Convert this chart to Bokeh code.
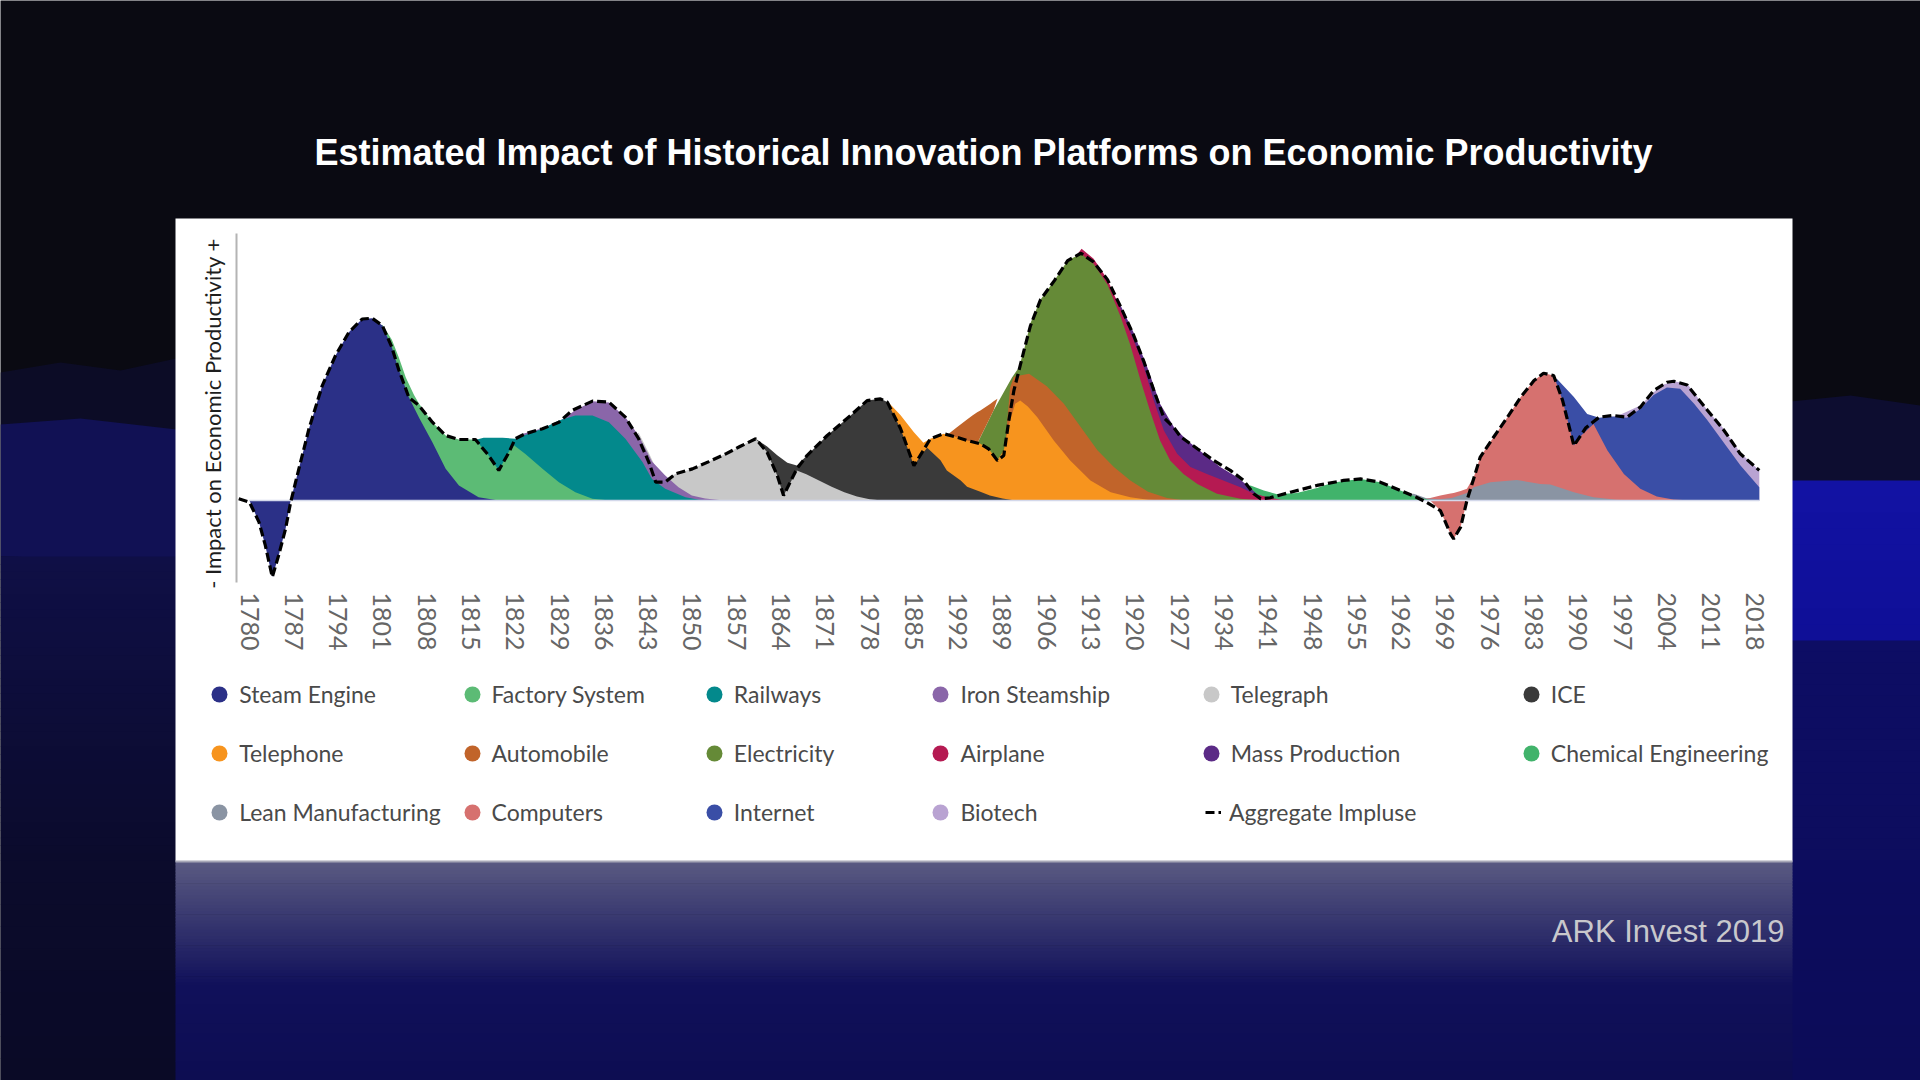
import numpy as np
from bokeh.plotting import figure
from bokeh.models import Range1d, LinearAxis, FixedTicker, Legend, LegendItem
from bokeh.core.properties import value
from bokeh.embed import file_html
from bokeh.resources import INLINE

# ---------------- DATA ----------------
TICK_YEARS = [1780, 1787, 1794, 1801, 1808, 1815, 1822, 1829, 1836, 1843, 1850, 1857,
              1864, 1871, 1878, 1885, 1892, 1899, 1906, 1913, 1920, 1927, 1934, 1941,
              1948, 1955, 1962, 1969, 1976, 1983, 1990, 1997, 2004, 2011, 2018]
TICK_LABELS = ["1780", "1787", "1794", "1801", "1808", "1815", "1822", "1829", "1836", "1843",
               "1850", "1857", "1864", "1871", "1978", "1885", "1992", "1889", "1906", "1913",
               "1920", "1927", "1934", "1941", "1948", "1955", "1962", "1969", "1976", "1983",
               "1990", "1997", "2004", "2011", "2018"]

SERIES_NAMES = ["Steam Engine", "Factory System", "Railways", "Iron Steamship", "Telegraph", "ICE",
                "Telephone", "Automobile", "Electricity", "Airplane", "Mass Production",
                "Chemical Engineering", "Lean Manufacturing", "Computers", "Internet", "Biotech"]
SERIES_COLORS = ["#2b3087", "#5cbb75", "#03898c", "#8a66a9", "#c8c8c8", "#3a3a3a",
                 "#f7941e", "#c1642a", "#658a37", "#b51a52", "#5b2a86",
                 "#41b36b", "#8a94a3", "#d6716f", "#3a4ea6", "#b9a3d2"]

STEAM_YEARS = [1780, 1781.5, 1782.5, 1783.6, 1784.6, 1785.7, 1786.5, 1787.8, 1789.4, 1791.5, 1793.6,
               1795.7, 1797.8, 1799.4, 1801, 1802.5, 1803.6, 1805.2, 1806.8, 1808.9, 1811, 1813.1,
               1816.2, 1819.4]
STEAM_VALUES = [0, -8.6, -18, -30.5, -22, -11.3, 0, 12.6, 28.6, 45.8, 57.8, 67, 72.3, 72.6, 69.7,
                61, 52, 41, 33, 23.2, 12.6, 6, 1.3, 0]

FACTORY_YEARS = [1788, 1792, 1796, 1799.4, 1801, 1802.5, 1803.6, 1804.7, 1806, 1806.8, 1808.9, 1811,
                 1813.1, 1815.7, 1817.8, 1819.4, 1821, 1821.8, 1823.6, 1826.3, 1828.9, 1831.5,
                 1834.2, 1837]
FACTORY_VALUES = [0, 8, 30, 60, 70, 64, 57, 49, 42, 38.5, 31.2, 25.9, 24.3, 24.3, 17.9, 12, 19.5,
                  22, 18.5, 12.6, 7.3, 3.3, 0.7, 0]

RAILWAYS_YEARS = [1803, 1808, 1811, 1813, 1815.5, 1817, 1820, 1822, 1824, 1826.3, 1828.9, 1831.5,
                  1834.2, 1836.8, 1839.4, 1842.1, 1843.6, 1845.7, 1848.9, 1851, 1854]
RAILWAYS_VALUES = [0, 5, 12, 19, 24, 25, 25, 24.6, 26.5, 28.6, 31.9, 33.9, 33.9, 31.2, 24.6, 15.3,
                   8.6, 4.7, 1.3, 0.3, 0]

IRON_YEARS = [1812, 1817, 1820, 1823.1, 1826.3, 1828.9, 1831.5, 1834.2, 1836.8, 1839.4, 1841.5,
              1843.6, 1845.7, 1847.8, 1849.9, 1852, 1855]
IRON_VALUES = [0, 10, 20, 26.5, 28.8, 31.5, 36, 39.5, 39, 33.2, 25.9, 15.5, 10, 5.3, 2, 0.8, 0]

TELEGRAPH_YEARS = [1833, 1837, 1840, 1841.5, 1843.1, 1844.4, 1845.2, 1846, 1847.3, 1850, 1852.6,
                   1855.2, 1857.5, 1860, 1861.8, 1863.4, 1864.4, 1866.5, 1868, 1870, 1872, 1874,
                   1876, 1878, 1880]
TELEGRAPH_VALUES = [0, 12, 24, 27, 19, 12, 7.5, 9, 10.6, 12.6, 15.5, 18.5, 21.5, 24.6, 19.2, 10, 2,
                    12, 10.5, 8, 5.5, 3.3, 1.6, 0.5, 0]

ICE_YEARS = [1848, 1852, 1855, 1858, 1860, 1861.8, 1863.4, 1865, 1866.5, 1868.1, 1871.3, 1875,
             1877.6, 1879.7, 1880.8, 1882.9, 1885, 1886, 1887.1, 1889.2, 1890.2, 1892.4, 1893.4,
             1895.5, 1897, 1899, 1901]
ICE_VALUES = [0, 4, 11, 19, 24.6, 21.5, 18, 15, 13.9, 17.9, 25.9, 33.9, 39.8, 40.5, 39.2, 28.6,
              13.9, 17.5, 21, 16, 12, 8, 5.5, 3.5, 2, 0.8, 0]

TELEPHONE_YEARS = [1872, 1876, 1879, 1880.8, 1882.9, 1885, 1886.5, 1887.6, 1889.7, 1891.8, 1893.4,
                   1895.5, 1896.8, 1898.2, 1899.2, 1900, 1901, 1901.8, 1903, 1904.5, 1907.1, 1909.7,
                   1912.9, 1916.1, 1919.2, 1922, 1925]
TELEPHONE_VALUES = [0, 10, 32, 39.5, 34, 27.2, 23, 24.6, 26.6, 25.2, 23.9, 22.6, 20.6, 15.9, 20, 30,
                    38.5, 39.8, 37.5, 33.2, 23.9, 15.9, 8, 3.3, 1.3, 0.3, 0]

AUTO_YEARS = [1885, 1888, 1889.7, 1891.8, 1893.5, 1894.3, 1895, 1895.5, 1897.1, 1897.6, 1898.2,
              1899.1, 1899.3, 1900.2, 1900.8, 1903.2, 1906, 1908.7, 1911.3, 1914, 1916.6, 1919.2,
              1922, 1925, 1928]
AUTO_VALUES = [0, 20, 25, 29.2, 32.5, 34, 35.2, 35.9, 38.5, 39.5, 40.5, 17.9, 17.9, 45, 49.3, 50.5,
               45.5, 38.5, 29.5, 20, 13.3, 8, 3.5, 1, 0]
AUTO_BASE = [0, 0, 0, 0, 0, 0, 22.6, 25.2, 33.4, 36, 40.5, 17.9, 0, 0, 0, 0, 0, 0, 0, 0, 0, 0, 0,
             0, 0]

ELEC_YEARS = [1888, 1892, 1895, 1897.6, 1900.5, 1901.6, 1902.4, 1903.4, 1905, 1907.2, 1909.3,
              1911.4, 1913.4, 1915.6, 1917.7, 1919.2, 1920.8, 1922.3, 1923.9, 1925.5, 1927.6,
              1929.8, 1932.9, 1936.6, 1940]
ELEC_VALUES = [0, 8, 22.6, 36, 49, 53, 60, 70.5, 80, 87.6, 95.6, 98.3, 94.3, 86, 73, 62, 48, 35.9,
               23.9, 15.9, 10.6, 6.6, 2.7, 0.7, 0]

AIR_YEARS = [1898, 1905, 1909, 1911.5, 1913.4, 1915.6, 1917.7, 1919.7, 1920.8, 1921.6, 1922.9,
             1924.5, 1926.6, 1928.7, 1931.3, 1933.9, 1936.6, 1938.7, 1941.3, 1943, 1945]
AIR_VALUES = [0, 60, 92, 100.3, 96.3, 88, 76, 64, 57, 51, 39.8, 27.9, 18.6, 13.3, 10.6, 8, 5.3,
              2.7, 1.1, 0.3, 0]

MASS_YEARS = [1905, 1910, 1914, 1916, 1917.7, 1919.7, 1921.9, 1923.9, 1926.1, 1928.2, 1930.8,
              1933.4, 1936.1, 1937.7, 1939.3, 1941, 1943]
MASS_VALUES = [0, 50, 85, 83, 77.5, 67, 53, 38.5, 29.2, 23.9, 18.6, 13.3, 9.3, 6, 2.4, 0.8, 0]

CHEM_YEARS = [1932, 1935, 1937, 1938.2, 1940.3, 1942.4, 1945.5, 1948.7, 1951, 1952.9, 1955.6,
              1958.7, 1961.9, 1964.5, 1967]
CHEM_VALUES = [0, 2, 5, 6, 4, 2.5, 3, 5, 7, 7.8, 8.6, 7.3, 4, 1.3, 0]

LEAN_YEARS = [1958, 1962, 1964, 1966.1, 1968, 1970, 1972.4, 1973.5, 1976.1, 1980.3, 1984, 1985.6,
              1989.3, 1992.4, 1996, 2000]
LEAN_VALUES = [0, 1.5, 2.7, 0.8, 0.5, 1, 3, 5.3, 7.3, 8.2, 6.6, 6.4, 3.3, 1.3, 0.3, 0]

COMP_YEARS = [1962, 1964, 1966.6, 1968.2, 1969.8, 1970.3, 1971.4, 1972.4, 1973.5, 1974.5, 1976.6,
              1978.8, 1980.9, 1983, 1984.5, 1986.1, 1987.5, 1989.3, 1990.5, 1992.4, 1994.6, 1997.2,
              1999.8, 2002.4, 2005, 2008]
COMP_VALUES = [0, 0.3, 1, 2, 2.8, 3, 3.8, 4.7, 9.5, 17.3, 25.2, 33.2, 41.2, 47.8, 50.7, 49.8, 40,
               21.9, 26, 30.5, 19.9, 10.6, 4.7, 1.6, 0.4, 0]
COMP_BASE = [0, 0, 0, -4, -13.3, -15.3, -10.6, 0, 0, 0, 0, 0, 0, 0, 0, 0, 0, 0, 0, 0, 0, 0, 0, 0,
             0, 0]

NET_YEARS = [1974, 1978, 1981, 1983.5, 1985.5, 1986.6, 1989.3, 1991.4, 1993.3, 1995.4, 1997.7,
             1999.8, 2001.9, 2004, 2006.1, 2008.3, 2010.4, 2013, 2015.6, 2018.6]
NET_VALUES = [0, 3, 12, 35, 46, 48.5, 41.2, 34.5, 33, 33.5, 33, 36.5, 42, 45, 44.5, 38.5, 32, 23,
              14, 5.3]

BIO_YEARS = [1985, 1990, 1995, 1996.7, 1999.8, 2003, 2005.1, 2007.2, 2010.4, 2013, 2015.6, 2018.6]
BIO_VALUES = [0, 10, 33, 34.3, 37.8, 45.8, 47.5, 46.5, 36, 28.5, 19, 12]

AGG_YEARS = [1778.3, 1780, 1781.5, 1782.5, 1783.6, 1784.6, 1785.7, 1786.5, 1787.8, 1789.4, 1791.5,
             1793.6, 1795.7, 1797.8, 1799.4, 1801, 1802.5, 1803.6, 1805.2, 1806.8, 1808.9, 1811,
             1813.1, 1815.7, 1817.8, 1819.4, 1821, 1822, 1823.6, 1826.3, 1828.9, 1831, 1834.2,
             1836.8, 1839.4, 1841.5, 1843.1, 1844.2, 1845.7, 1847.3, 1850, 1852.6, 1855.2, 1857.5,
             1860, 1861.8, 1863.4, 1864.4, 1866.5, 1868.1, 1871.3, 1875, 1877.6, 1879.7, 1880.8,
             1882.9, 1885, 1886.5, 1887.6, 1889.7, 1891.8, 1893.4, 1895.5, 1896.8, 1898.2, 1899.2,
             1900, 1900.8, 1901.6, 1902.4, 1903.4, 1905, 1907.2, 1909.3, 1911.4, 1913.4, 1915.6,
             1917.7, 1919.7, 1921.4, 1922.9, 1924.5, 1926.1, 1927.1, 1929.8, 1932.4, 1935, 1937.1,
             1938.7, 1939.8, 1941.3, 1944.5, 1948.7, 1952.9, 1955.6, 1958.7, 1961.9, 1964.4, 1966,
             1968.2, 1969.8, 1970.3, 1971.4, 1972.4, 1973.5, 1974.5, 1976.6, 1978.8, 1980.9, 1983,
             1984.5, 1986.1, 1987.5, 1989.3, 1991.2, 1993.3, 1995.4, 1997.7, 1999.8, 2001.9, 2004,
             2005.1, 2007.2, 2010.4, 2013, 2015.6, 2018.6]
AGG_VALUES = [0.7, -0.7, -8.6, -17.9, -30.5, -21.9, -11.3, -0.7, 12.6, 28.6, 45.8,
              57.8, 67, 72.3, 72.6, 69.7, 61, 52, 41, 37.8, 31.2, 25.9,
              24.3, 24.3, 17.9, 12, 19.2, 24.6, 26.6, 28.6, 31.2, 35.9, 39.6,
              39.2, 33.2, 24.6, 15.3, 7.3, 7.3, 10.6, 12.6, 15.5, 18.5, 21.5,
              24.6, 19.2, 10, 2, 12.6, 17.9, 25.9, 33.9, 39.8, 40.5, 39.2,
              28.6, 13.9, 20, 24.6, 26.6, 25.2, 23.9, 22.6, 20.6, 15.9, 17.9,
              31.9, 43.8, 51.8, 59.8, 69.5, 80, 87.6, 95.6, 98.5, 95, 88,
              77, 66, 55, 44, 33, 29, 25.5, 20.6, 15.9, 12, 8,
              2.7, 0.7, 1.1, 3.3, 6, 8, 8.6, 7.3, 4, 1.3, -0.7,
              -4, -13.3, -15.3, -10.6, 0, 9, 17.3, 25.2, 33.2, 41.2, 47.8,
              50.7, 49.8, 40, 21.9, 29, 33.2, 33.9, 33.2, 37.2, 43.8, 47.1,
              47.5, 46, 36, 28, 18.6, 12]

SERIES_YEARS = [STEAM_YEARS, FACTORY_YEARS, RAILWAYS_YEARS, IRON_YEARS, TELEGRAPH_YEARS, ICE_YEARS,
                TELEPHONE_YEARS, AUTO_YEARS, ELEC_YEARS, AIR_YEARS, MASS_YEARS, CHEM_YEARS,
                LEAN_YEARS, COMP_YEARS, NET_YEARS, BIO_YEARS]
SERIES_VALUES = [STEAM_VALUES, FACTORY_VALUES, RAILWAYS_VALUES, IRON_VALUES, TELEGRAPH_VALUES,
                 ICE_VALUES, TELEPHONE_VALUES, AUTO_VALUES, ELEC_VALUES, AIR_VALUES, MASS_VALUES,
                 CHEM_VALUES, LEAN_VALUES, COMP_VALUES, NET_VALUES, BIO_VALUES]
SERIES_BASES = {"Automobile": AUTO_BASE, "Computers": COMP_BASE}

TITLE = "Estimated Impact of Historical Innovation Platforms on Economic Productivity"
Y_LABEL = "- Impact on Economic Productivity +"
SOURCE = "ARK Invest 2019"
AGG_NAME = "Aggregate Impluse"

# ---------------- LAYOUT ----------------
W, H = 1920, 1080
PX_PER_YEAR = 6.3277
PX_PER_UNIT = 2.51
YEAR0, YEAR0_PX = 1780, 249
ZERO_PX = 500

x_start = YEAR0 - YEAR0_PX / PX_PER_YEAR
x_end = x_start + W / PX_PER_YEAR
y_end = ZERO_PX / PX_PER_UNIT
y_start = -(H - ZERO_PX) / PX_PER_UNIT

p = figure(width=W, height=H, x_range=Range1d(x_start, x_end), y_range=Range1d(y_start, y_end),
           x_axis_type=None, y_axis_type=None, toolbar_location=None, output_backend="svg",
           min_border=0, title=None, background_fill_color="#0a0a12",
           border_fill_color="#0a0a12", outline_line_color=None)
p.extra_x_ranges = {"px": Range1d(0, W)}
p.extra_y_ranges = {"px": Range1d(H, 0)}


def hex2rgb(c):
    c = c.lstrip("#")
    return np.array([int(c[i:i + 2], 16) for i in (0, 2, 4)], dtype=float)


def grad(l, r, t, b, c1, c2, n=40):
    ys = np.linspace(t, b, n + 1)
    a, z = hex2rgb(c1), hex2rgb(c2)
    cols = []
    for i in range(n):
        f = (i + 0.5) / n
        rgb = a + (z - a) * f
        cols.append("#%02x%02x%02x" % tuple(int(round(v)) for v in rgb))
    p.quad(left=[l] * n, right=[r] * n, top=list(ys[:-1]), bottom=list(ys[1:] + 0.6),
           fill_color=cols, line_color=None, x_range_name="px", y_range_name="px")


def poly(xs, ys, color):
    p.patch(x=xs, y=ys, fill_color=color, line_color=None, x_range_name="px", y_range_name="px")


# background: side waves and bottom
poly([0, 60, 120, 185, 185, 0], [372, 362, 370, 356, 1080, 1080], "#0c0c26")
poly([0, 80, 185, 185, 0], [424, 418, 430, 560, 556], "#111154")
grad(0, 185, 556, 860, "#0f0f46", "#0b0b2c")
poly([1780, 1850, 1920, 1920, 1780], [402, 395, 405, 1080, 1080], "#0d0d30")
grad(1780, 1920, 480, 640, "#1212a4", "#0f0f96", n=10)
grad(1780, 1920, 640, 1080, "#0d0d64", "#0c0c58")
grad(0, 185, 860, 1080, "#0b0b2c", "#0a0a26", n=10)
grad(175, 1792, 861, 985, "#5a5a82", "#10105a")
grad(175, 1792, 985, 1080, "#10105a", "#0d0d52", n=10)

# white panel
p.quad(left=[175], right=[1792], top=[218], bottom=[861], fill_color="white",
       line_color=None, x_range_name="px", y_range_name="px")
p.line(x=[175, 1792], y=[861, 861], line_color="#a8a8b8", line_width=2,
       x_range_name="px", y_range_name="px")

# ---------------- AREAS (earlier platforms drawn on top) ----------------
for name, col, xs, ys in reversed(list(zip(SERIES_NAMES, SERIES_COLORS, SERIES_YEARS, SERIES_VALUES))):
    base = SERIES_BASES.get(name, [0] * len(xs))
    p.varea(x=xs, y1=base, y2=ys, fill_color=col, fill_alpha=1.0)

p.line(x=[STEAM_YEARS[0], NET_YEARS[-1]], y=[0, 0], line_color="#d3d8ea", line_width=1.5)
agg = p.line(x=AGG_YEARS, y=AGG_VALUES, line_color="black", line_width=3.2, line_dash="9 4")

# ---------------- AXES ----------------
xaxis = LinearAxis(fixed_location=-(585 - ZERO_PX) / PX_PER_UNIT, ticker=FixedTicker(ticks=TICK_YEARS),
                   major_label_overrides={y: l for y, l in zip(TICK_YEARS, TICK_LABELS)},
                   major_label_orientation="vertical", major_label_standoff=7,
                   major_label_text_font="Lato", major_label_text_font_size="25px",
                   major_label_text_color="#666666", axis_line_color=None,
                   major_tick_line_color=None, minor_tick_line_color=None,
                   major_tick_out=0, major_tick_in=0)
p.add_layout(xaxis, "below")

yaxis = LinearAxis(fixed_location=YEAR0 - (YEAR0_PX - 236) / PX_PER_YEAR,
                   bounds=(-(582 - ZERO_PX) / PX_PER_UNIT, (ZERO_PX - 233) / PX_PER_UNIT),
                   ticker=FixedTicker(ticks=[]), axis_line_color="#b4b4b4", axis_line_width=2,
                   major_tick_line_color=None, minor_tick_line_color=None,
                   major_label_text_font_size="0px")
p.add_layout(yaxis, "left")

p.text(x=[212], y=[413], text=[Y_LABEL], angle=np.pi / 2, text_align="center",
       text_baseline="middle", text_font=value("Lato"), text_font_size="22px",
       text_color="#1e1e1e", x_range_name="px", y_range_name="px")

p.text(x=[983], y=[152], text=[TITLE], text_align="center", text_baseline="middle",
       text_font=value("Liberation Sans"), text_font_style="bold", text_font_size="36px",
       text_color="white", x_range_name="px", y_range_name="px")

p.text(x=[1784], y=[931], text=[SOURCE], text_align="right", text_baseline="middle",
       text_font=value("Liberation Sans"), text_font_size="31px", text_color="#c8c8cc",
       x_range_name="px", y_range_name="px")

# ---------------- LEGEND ----------------
# legend proxies: one point each, placed beyond the right edge of the x range (never visible)
markers = {}
for name, col in zip(SERIES_NAMES, SERIES_COLORS):
    markers[name] = p.scatter(x=[x_end + 50], y=[0], marker="circle", size=16,
                              fill_color=col, line_color=None)

COLUMNS = [(221.7, ["Steam Engine", "Telephone", "Lean Manufacturing"]),
           (474.0, ["Factory System", "Automobile", "Computers"]),
           (716.3, ["Railways", "Electricity", "Internet"]),
           (942.9, ["Iron Steamship", "Airplane", "Biotech"]),
           (1213.3, ["Telegraph", "Mass Production"]),
           (1533.3, ["ICE", "Chemical Engineering"])]
ROW0 = 694.3


def add_legend(items, left_px, top_px, gw, standoff):
    n = len(items)
    height = n * 40 + (n - 1) * 19
    loc = (left_px, H - (top_px + height))
    lg = Legend(items=items, location=loc, orientation="vertical", glyph_width=gw,
                glyph_height=40, label_height=40, spacing=19, padding=0, margin=0,
                label_standoff=standoff, label_text_font="Lato", label_text_font_size="23px",
                label_text_color="#4a4a4a", background_fill_alpha=0, border_line_alpha=0)
    p.add_layout(lg)


for cx, names in COLUMNS:
    add_legend([LegendItem(label=n, renderers=[markers[n]]) for n in names],
               cx - 22.5, ROW0 - 20, 40, 0)
add_legend([LegendItem(label=AGG_NAME, renderers=[agg])], 1205, ROW0 + 2 * 58.7 - 20, 16, 8)

html = file_html(p, INLINE)
html = html.replace("<body>", '<body style="background:#0a0a12;">', 1)
open("out.html", "w").write(html)
